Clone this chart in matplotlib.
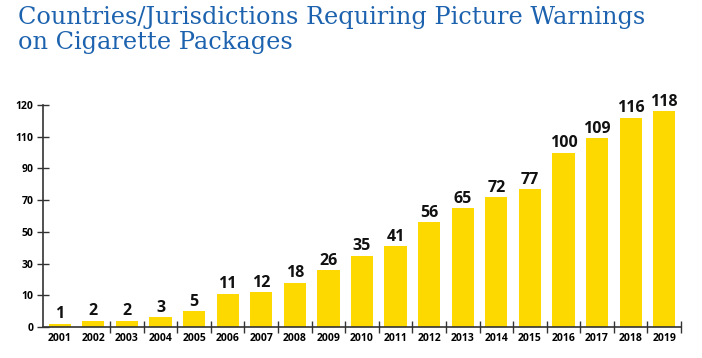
import matplotlib.pyplot as plt
import numpy as np

# data
years = [str(y) for y in range(2001, 2020)]
counts = [1, 2, 2, 3, 5, 11, 12, 18, 26, 35, 41, 56, 65, 72, 77, 100, 109, 116, 118]
ytick_vals = [0, 10, 30, 50, 70, 90, 110, 120]

# the original axis is spaced evenly between these (uneven) tick values
steps = np.arange(len(ytick_vals))


def fwd(v):
    return np.interp(v, ytick_vals, steps)


def inv(s):
    return np.interp(s, steps, ytick_vals)


fig = plt.figure(figsize=(7.02, 3.58), dpi=100)
ax = fig.add_axes([43 / 702, 31 / 358, 638 / 702, 222 / 358])

x = np.arange(len(years))
ax.bar(x, counts, width=0.66, color='#FDD900', zorder=2)
ax.set_yscale('function', functions=(fwd, inv))
ax.set_ylim(0, 120)
ax.set_xlim(-0.5, len(years) - 0.5)

for xi, c in zip(x, counts):
    ax.annotate(str(c), (xi, c), xytext=(0, 1), textcoords='offset points',
                ha='center', va='bottom', fontsize=11.5, fontweight='bold',
                family='Open Sans', color='#111111')

ax.set_yticks(ytick_vals)
ax.set_yticklabels([str(v) for v in ytick_vals], fontsize=7.5,
                   fontweight='bold', family='Open Sans')
ax.yaxis.set_minor_locator(plt.NullLocator())
ax.set_xticks(x)
ax.set_xticklabels(years, fontsize=7.5, fontweight='bold', family='Open Sans')
ax.tick_params(axis='x', length=0, pad=4)
ax.set_xticks(np.arange(1.5, len(years), 1), minor=True)
ax.tick_params(axis='x', which='minor', direction='inout', length=8,
               width=1, color='#333333')
ax.tick_params(axis='y', direction='inout', length=8, width=1,
               color='#333333', pad=3)

for s in ['top', 'right']:
    ax.spines[s].set_visible(False)
for s in ['left', 'bottom']:
    ax.spines[s].set_color('#333333')
    ax.spines[s].set_linewidth(1.2)

fig.text(18 / 702, 1 - 6 / 358,
         'Countries/Jurisdictions Requiring Picture Warnings\non Cigarette Packages',
         ha='left', va='top', fontsize=17.3, family='DejaVu Serif',
         color='#1C62AE', linespacing=1.12)

fig.savefig('out.png', dpi=100)
